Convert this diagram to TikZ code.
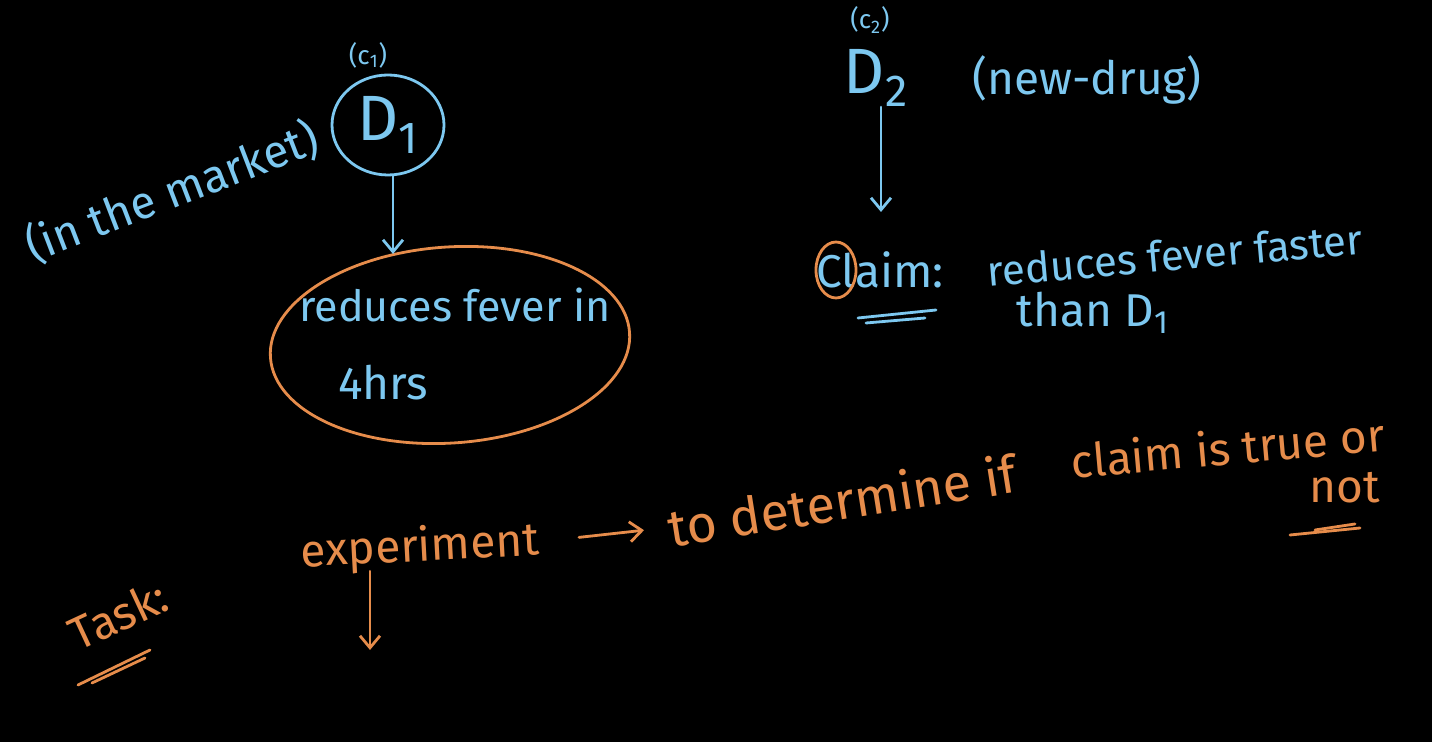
\documentclass[tikz,border=0pt]{standalone}
\usepackage{fontspec}
\setmainfont{Fira Sans}
\usetikzlibrary{shapes.geometric,arrows.meta}
\definecolor{chalkblue}{RGB}{125,200,240}
\definecolor{chalkorange}{RGB}{230,140,75}
\begin{document}
\begin{tikzpicture}[x = 0.5pt, y = -0.5pt,
		blueink/.style = {text = chalkblue, inner sep = 0pt},
		orangeink/.style = {text = chalkorange, inner sep = 0pt},
		bluepen/.style = {draw = chalkblue, line width = 1.4pt, line cap = round},
		orangepen/.style = {draw = chalkorange, line width = 1.4pt, line cap = round},
		penarrow/.style = {-{Straight Barb[length = 6pt, width = 10pt]}},
		big/.style = {font = \fontsize{32}{36}\selectfont},
		mid/.style = {font = \fontsize{23}{27}\selectfont},
		small/.style = {font = \fontsize{13}{15}\selectfont}]
		\fill[black] (0, 0) rectangle (1432, 742);
		\node[blueink, mid, rotate = 21] (market) at (172, 192) {(in the market)};
		\node[blueink, big, bluepen, ellipse, minimum width = 56pt, minimum height = 50pt] (d1) at (388, 125) {D\textsubscript{1}};
		\node[blueink, small] (c1) at (368, 55) {(c\textsubscript{1})};
		\node[orangepen, ellipse, minimum width = 180pt, minimum height = 98pt, rotate = 4] (fever) at (450, 345) {};
		\node[blueink, font = \fontsize{21.5}{25}\selectfont] (fevtext) at (455, 305) {reduces fever in};
		\node[blueink, mid] (hrs) at (383, 383) {4hrs};
		\coordinate (d1tip) at (393, 254);
		\draw[bluepen, penarrow] (d1tip |- d1.south) -- (d1tip);
		\node[blueink, big] (d2) at (876, 78) {D\textsubscript{2}};
		\node[blueink, small] (c2) at (870, 20) {(c\textsubscript{2})};
		\node[blueink, mid] (newdrug) at (1087, 80) {(new-drug)};
		\coordinate (d2tip) at (881, 212);
		\draw[bluepen, penarrow] (d2tip |- d2.south) -- (d2tip);
		\node[blueink, mid] (claim) at (880, 270) {Claim:};
		\draw[orangepen] (836, 270) ellipse [x radius = 20, y radius = 28];
		\draw[bluepen] (858, 318) -- (936, 310);
		\draw[bluepen] (866, 323) -- (925, 318);
		\node[blueink, font = \fontsize{21}{25}\selectfont, rotate = 5] (faster) at (1175, 255) {reduces fever faster};
		\node[blueink, mid] (than) at (1093, 313) {than D\textsubscript{1}};
		\node[orangeink, mid, rotate = 3] (exp) at (420, 548) {experiment};
		\node[orangeink, font = \fontsize{26}{30}\selectfont, rotate = 9] (determine) at (842, 500) {to determine if};
		\draw[orangepen, penarrow, shorten <= 20pt, shorten >= 12pt] (exp.east) -- (determine.west);
		\node[orangeink, mid, rotate = 5] (claimtrue) at (1228, 447) {claim is true or};
		\node[orangeink, mid] (not) at (1345, 488) {not};
		\draw[orangepen] (1290, 535) -- (1360, 528);
		\draw[orangepen] (1315, 530) -- (1355, 524);
		\coordinate (expend) at (370, 650);
		\draw[orangepen, penarrow] (expend |- exp.south) -- (expend);
		\node[orangeink, mid, rotate = 25] (task) at (118, 615) {Task:};
		\draw[orangepen] (78, 685) -- (150, 650);
		\draw[orangepen] (92, 683) -- (145, 658);
\end{tikzpicture}
\end{document}
